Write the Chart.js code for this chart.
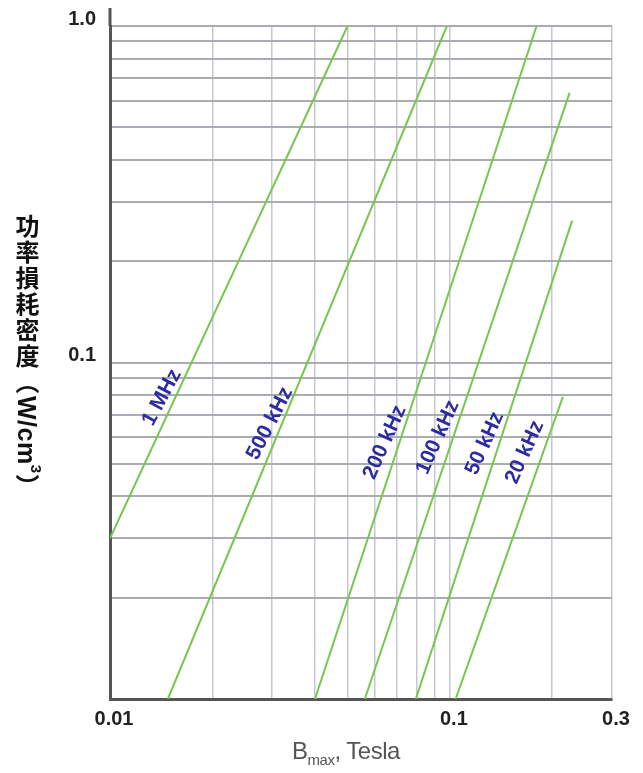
<!DOCTYPE html>
<html>
<head>
<meta charset="utf-8">
<script src="https://cdn.jsdelivr.net/npm/chart.js@4.4.1/dist/chart.umd.min.js"></script>
<style>
  html, body { margin: 0; padding: 0; background: #ffffff; }
  #wrap { position: relative; width: 643px; height: 773px; overflow: hidden; }
  #c { position: absolute; left: 0; top: 0; }
  #ytitle {
    position: absolute; left: 14px; top: 214px;
    writing-mode: vertical-rl; text-orientation: mixed;
    font-family: "Noto Sans CJK TC", "Noto Sans CJK SC", sans-serif;
    font-weight: bold; font-size: 24px; line-height: 26px; color: #111;
    white-space: nowrap; letter-spacing: 2px;
  }
  #ytitle .lat { font-family: "Liberation Sans", Arial, sans-serif; font-size: 25px; letter-spacing: 0.5px; }
  #ytitle sup { font-size: 15px; }
  #xtitle {
    position: absolute; left: 0; width: 692px; top: 737px; text-align: center;
    font-family: "Liberation Sans", Arial, sans-serif; font-size: 24px; color: #555;
    white-space: nowrap; letter-spacing: -0.5px;
  }
  #xtitle sub { font-size: 15px; vertical-align: -6px; }
</style>
</head>
<body>
<div id="wrap">
  <canvas id="c" width="643" height="773"></canvas>
  <div id="ytitle">功率損耗密度（<span class="lat">W/cm<sup>3</sup></span>）</div>
  <div id="xtitle">B<sub>max</sub>, Tesla</div>
</div>
<script>
// ---- data (Bmax in Tesla, loss density in W/cm^3) ----
const seriesNames = ["1 MHz", "500 kHz", "200 kHz", "100 kHz", "50 kHz", "20 kHz"];
const bmax1MHz   = [0.01, 0.050];
const loss1MHz   = [0.03, 1.0];
const bmax500k   = [0.0148, 0.098];
const loss500k   = [0.01, 1.0];
const bmax200k   = [0.0401, 0.180];
const loss200k   = [0.01, 1.0];
const bmax100k   = [0.0562, 0.225];
const loss100k   = [0.01, 0.633];
const bmax50k    = [0.0794, 0.229];
const loss50k    = [0.01, 0.264];
const bmax20k    = [0.104, 0.215];
const loss20k    = [0.01, 0.079];

// label anchor points (data coordinates) for each curve name
const labelBmax = [0.01422, 0.02955, 0.0644, 0.0922, 0.1267, 0.1662];
const labelLoss = [0.0787, 0.0659, 0.0579, 0.0599, 0.0575, 0.0541];
const labelAngle = [-62, -63, -66, -66, -66, -66];

// axis ticks
const xTicks = [0.01, 0.02, 0.03, 0.04, 0.05, 0.06, 0.07, 0.08, 0.09, 0.1, 0.2, 0.3];
const xTickLabels = {"0.01": "0.01", "0.1": "0.1", "0.3": "0.3"};
const yTicks = [0.01, 0.02, 0.03, 0.04, 0.05, 0.06, 0.07, 0.08, 0.09, 0.1, 0.2, 0.3, 0.4, 0.5, 0.6, 0.7, 0.8, 0.9, 1.0];
const yTickLabels = {"0.1": "0.1", "1": "1.0"};

const xs = [bmax1MHz, bmax500k, bmax200k, bmax100k, bmax50k, bmax20k];
const ys = [loss1MHz, loss500k, loss200k, loss100k, loss50k, loss20k];

const datasets = seriesNames.map((n, i) => ({
  label: n,
  data: xs[i].map((x, k) => ({ x: x, y: ys[i][k] })),
  showLine: true,
  borderColor: '#78c550',
  borderWidth: 2,
  pointRadius: 0,
  tension: 0,
  fill: false
}));

const extras = {
  id: 'extras',
  afterDatasetsDraw(chart) {
    const ctx = chart.ctx, xS = chart.scales.x, yS = chart.scales.y;
    ctx.save();
    ctx.fillStyle = '#2c2ca0';
    ctx.font = 'bold 21px "Liberation Sans", Arial, sans-serif';
    ctx.textAlign = 'center';
    ctx.textBaseline = 'middle';
    seriesNames.forEach((n, i) => {
      const px = xS.getPixelForValue(labelBmax[i]);
      const py = yS.getPixelForValue(labelLoss[i]);
      ctx.save();
      ctx.translate(px, py);
      ctx.rotate(labelAngle[i] * Math.PI / 180);
      ctx.fillText(n, 0, 0);
      ctx.restore();
    });
    ctx.restore();
  },
  afterDraw(chart) {
    const ctx = chart.ctx, a = chart.chartArea;
    ctx.save();
    ctx.strokeStyle = '#555555';
    ctx.lineWidth = 3;
    ctx.beginPath();
    ctx.moveTo(a.left, a.top - 18);
    ctx.lineTo(a.left, a.top);
    ctx.stroke();
    ctx.restore();
  }
};

new Chart(document.getElementById('c'), {
  type: 'scatter',
  data: { datasets },
  plugins: [extras],
  options: {
    responsive: false,
    animation: false,
    events: [],
    layout: { padding: { top: 25, right: 31, left: 0, bottom: 0 } },
    plugins: { legend: { display: false }, tooltip: { enabled: false }, title: { display: false } },
    scales: {
      x: {
        type: 'logarithmic',
        min: 0.01, max: 0.3,
        afterBuildTicks: s => { s.ticks = xTicks.map(v => ({ value: v })); },
        afterFit: s => { s.height = 74; },
        ticks: {
          autoSkip: false, maxRotation: 0, padding: 8, labelOffset: 4,
          color: '#222',
          font: { family: '"Liberation Sans", Arial, sans-serif', size: 20, weight: 'bold' },
          callback: v => xTickLabels[String(v)] || ''
        },
        grid: { color: '#c4c8cf', lineWidth: 1.5, drawTicks: false },
        border: { color: '#555555', width: 3 }
      },
      y: {
        type: 'logarithmic',
        min: 0.01, max: 1.0,
        afterBuildTicks: s => { s.ticks = yTicks.map(v => ({ value: v })); },
        afterFit: s => { s.width = 110; },
        ticks: {
          autoSkip: false, padding: 14, labelOffset: -7,
          color: '#222',
          font: { family: '"Liberation Sans", Arial, sans-serif', size: 20, weight: 'bold' },
          callback: v => yTickLabels[String(v)] || ''
        },
        grid: { color: '#a9acb1', lineWidth: 2, drawTicks: false },
        border: { color: '#555555', width: 3 }
      }
    }
  }
});
</script>
</body>
</html>
